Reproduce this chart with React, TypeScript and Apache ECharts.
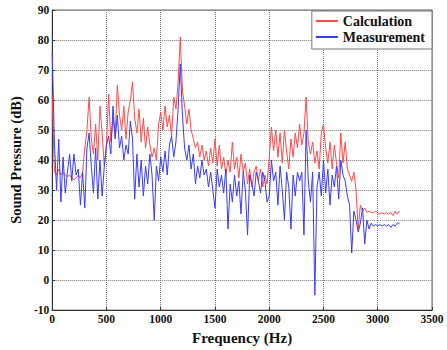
import React, { useEffect, useRef } from "react";
import * as echarts from "echarts";

const FREQ_STEP = 20;
const calculation = [
  62, 36, 35, 37, 35, 36, 35, 34.5, 35, 34, 33.5, 34, 35, 34, 36,
  44, 50, 61, 47, 42, 52, 40, 58, 49, 38, 45, 62, 46, 54, 48,
  65, 55, 50, 58, 47, 56, 60, 66, 54, 49, 57, 46, 54, 44, 51,
  45, 41, 44, 40, 52, 56, 50, 58, 51, 55, 48, 61, 57, 66, 81,
  63, 58, 52, 57, 50, 47, 44, 46, 41, 45, 40, 43, 38, 44, 39,
  47, 38, 45, 37, 41, 35, 40, 36, 46, 37, 41, 34, 42, 36, 39,
  32, 37, 31, 36, 38, 33, 37, 31, 35, 32, 41, 51, 43, 50, 41,
  49, 39, 50, 43, 37, 47, 41, 49, 44, 52, 45, 49, 61, 46, 42,
  46, 39, 43, 37, 49, 52, 44, 39, 46, 37, 45, 39, 34, 49, 39,
  46, 37, 35, 33, 36, 30, 17, 25, 23, 24, 22.5, 23, 22.5, 22.5, 23,
  22.5, 22, 22.5, 22, 22.5, 22, 22.5, 21.5, 23, 22, 23,
];
const measurement = [
  76, 46, 30, 47, 26, 41, 29, 36, 42, 33, 42, 35, 37, 25, 36,
  24, 44, 49, 38, 29, 44, 27, 40, 28, 38, 45, 48, 42, 58, 47,
  55, 44, 48, 40, 45, 42, 53, 47, 27, 42, 31, 40, 28, 38, 32,
  42, 35, 20, 38, 33, 41, 36, 43, 35, 45, 48, 41, 46, 57, 72,
  55, 44, 40, 45, 37, 42, 32, 38, 34, 40, 35, 37, 31, 36, 30,
  24, 37, 31, 35, 29, 37, 17, 32, 26, 35, 28, 33, 22, 36, 30,
  15, 35, 32, 28, 36, 33, 29, 36, 33, 26, 28, 40, 33, 36, 25,
  38, 30, 20, 36, 31, 17, 35, 28, 36, 33, 36, 15, 50, 33, 26,
  36, -5, 31, 36, 28, 40, 29, 37, 25, 35, 31, 38, 27, 40, 35,
  33, 28, 25, 9, 23, 20, 16, 19, 24, 12, 20, 17, 19, 18, 18.5,
  18, 18.5, 18, 18.5, 18, 18.5, 17.5, 18.5, 18, 19, 19,
];
const xTicks = { min: 0, max: 3500, interval: 500 };
const yTicks = { min: -10, max: 90, interval: 10 };

const FONT = "'Liberation Serif', 'Times New Roman', serif";

export default function App() {
  const ref = useRef<HTMLDivElement>(null);
  useEffect(() => {
    if (!ref.current) return;
    const chart = echarts.init(ref.current, undefined, { renderer: "svg" });
    const toPairs = (arr: number[]) => arr.map((v, i) => [i * FREQ_STEP, v]);
    chart.setOption({
      animation: false,
      backgroundColor: "#fff",
      grid: {
        left: 51,
        right: 15,
        top: 10,
        bottom: 37,
        show: true,
        borderColor: "#666",
        borderWidth: 1,
      },
      legend: {
        orient: "vertical",
        right: 15,
        top: 11,
        padding: [3, 7, 5, 4],
        itemGap: 2,
        itemWidth: 22,
        itemHeight: 2,
        backgroundColor: "#fff",
        borderColor: "#777",
        borderWidth: 1,
        borderRadius: 0,
        textStyle: {
          fontFamily: FONT,
          fontWeight: "bold",
          fontSize: 14,
          lineHeight: 14,
          color: "#111",
          padding: [0, 0, 0, 0],
        },
        data: [
          { name: "Calculation", icon: "rect" },
          { name: "Measurement", icon: "rect" },
        ],
      },
      xAxis: {
        type: "value",
        min: xTicks.min,
        max: xTicks.max,
        interval: xTicks.interval,
        name: "Frequency (Hz)",
        nameLocation: "middle",
        nameGap: 17,
        nameTextStyle: {
          fontFamily: FONT,
          fontWeight: "bold",
          fontSize: 15,
          color: "#111",
          verticalAlign: "top",
        },
        axisLine: { show: true, onZero: false, lineStyle: { color: "#333" } },
        axisTick: { show: true, inside: true, length: 3, lineStyle: { color: "#333" } },
        axisLabel: {
          fontFamily: FONT,
          fontWeight: "bold",
          fontSize: 11.5,
          color: "#111",
          margin: 3,
          formatter: (v: number) => String(v),
        },
        splitLine: { show: true, lineStyle: { type: "dotted", color: "#777", width: 1 } },
      },
      yAxis: {
        type: "value",
        min: yTicks.min,
        max: yTicks.max,
        interval: yTicks.interval,
        name: "Sound Pressure (dB)",
        nameLocation: "middle",
        nameGap: 26,
        nameTextStyle: { fontFamily: FONT, fontWeight: "bold", fontSize: 14.5, color: "#111" },
        axisLine: { show: true, onZero: false, lineStyle: { color: "#333" } },
        axisTick: { show: true, inside: true, length: 3, lineStyle: { color: "#333" } },
        axisLabel: {
          fontFamily: FONT,
          fontWeight: "bold",
          fontSize: 11.5,
          color: "#111",
          margin: 3,
          formatter: (v: number) => String(v),
        },
        splitLine: { show: true, lineStyle: { type: "dotted", color: "#777", width: 1 } },
      },
      series: [
        {
          name: "Calculation",
          type: "line",
          data: toPairs(calculation),
          showSymbol: false,
          symbol: "none",
          color: "#ff4a4a",
          lineStyle: { width: 1, color: "#ff4a4a" },
        },
        {
          name: "Measurement",
          type: "line",
          data: toPairs(measurement),
          showSymbol: false,
          symbol: "none",
          color: "#3a3aff",
          lineStyle: { width: 1, color: "#3a3aff" },
        },
      ],
    });
    return () => chart.dispose();
  }, []);
  return (
    <div
      ref={ref}
      style={{ position: "fixed", left: 0, top: 0, width: 447, height: 350 }}
    />
  );
}
